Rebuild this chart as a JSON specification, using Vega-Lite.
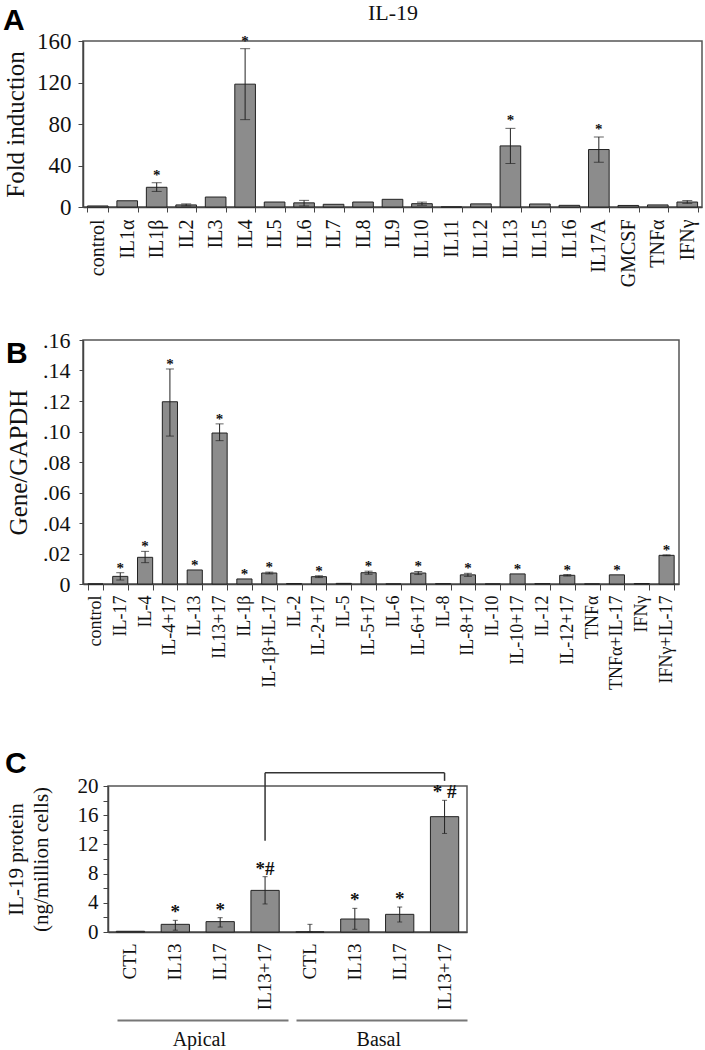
{
  "$schema": "https://vega.github.io/schema/vega-lite/v6.json",
  "background": "white",
  "padding": {"left": 2, "top": 0, "right": 2, "bottom": 0},
  "columns": 1,
  "bounds": "flush",
  "spacing": 133,
  "config": {
    "font": "Liberation Serif",
    "view": {"stroke": "#555", "strokeWidth": 1.5},
    "axis": {"grid": false, "domainColor": "#444", "tickColor": "#444", "labelColor": "#111", "titleColor": "#111", "titleFontWeight": "normal", "domainWidth": 1.5, "labelOverlap": false},
    "title": {"font": "Liberation Sans", "fontWeight": "bold", "fontSize": 30, "anchor": "start", "frame": "bounds", "baseline": "alphabetic", "color": "#000"}
  },
  "concat": [
    {
      "title": {"text": "A", "offset": -35},
      "width": 619,
      "height": 166,
      "data": {"values": [
        {"cyt": "control", "value": 1},
        {"cyt": "IL1α", "value": 6},
        {"cyt": "IL1β", "value": 19, "lo": 15, "hi": 23.4, "sig": "*"},
        {"cyt": "IL2", "value": 2, "lo": 1, "hi": 3},
        {"cyt": "IL3", "value": 9.6},
        {"cyt": "IL4", "value": 118.4, "lo": 84.2, "hi": 152.6, "sig": "*"},
        {"cyt": "IL5", "value": 4.8},
        {"cyt": "IL6", "value": 4, "lo": 1, "hi": 6.4},
        {"cyt": "IL7", "value": 2.6},
        {"cyt": "IL8", "value": 4.8},
        {"cyt": "IL9", "value": 7.4},
        {"cyt": "IL10", "value": 3.2, "lo": 1.7, "hi": 4.7},
        {"cyt": "IL11", "value": 0},
        {"cyt": "IL12", "value": 3},
        {"cyt": "IL13", "value": 58.9, "lo": 41.9, "hi": 75.8, "sig": "*"},
        {"cyt": "IL15", "value": 2.9},
        {"cyt": "IL16", "value": 1.6},
        {"cyt": "IL17A", "value": 55.4, "lo": 43.2, "hi": 67.5, "sig": "*"},
        {"cyt": "GMCSF", "value": 1.5},
        {"cyt": "TNFα", "value": 2},
        {"cyt": "IFNγ", "value": 4.8, "lo": 3.5, "hi": 6.2}
      ]},
      "resolve": {"axis": {"x": "independent"}},
      "layer": [
        {
          "mark": {"type": "bar", "color": "#8c8c8c", "stroke": "#222", "strokeWidth": 1},
          "encoding": {
            "x": {"field": "cyt", "type": "nominal", "sort": null,
              "scale": {"domain": ["control","IL1α","IL1β","IL2","IL3","IL4","IL5","IL6","IL7","IL8","IL9","IL10","IL11","IL12","IL13","IL15","IL16","IL17A","GMCSF","TNFα","IFNγ"], "paddingInner": 0.3, "paddingOuter": 0.15},
              "axis": {"title": null, "labelAngle": 270, "labelAlign": "right", "labelBaseline": "middle", "labelFontSize": 20, "labelPadding": 7, "tickBand": "extent", "tickSize": 5}},
            "y": {"field": "value", "type": "quantitative", "scale": {"domain": [0, 160], "nice": false},
              "axis": {"title": "Fold induction", "values": [0, 40, 80, 120, 160], "tickCount": 12, "labelOverlap": false, "labelFontSize": 23, "titleFontSize": 25, "tickSize": 5, "labelPadding": 7, "titlePadding": 8, "minExtent": 47, "maxExtent": 47}}
          }
        },
        {
          "transform": [{"filter": "isValid(datum.hi)"}],
          "mark": {"type": "rule", "color": "#222", "strokeWidth": 1},
          "encoding": {
            "x": {"field": "cyt", "type": "nominal", "sort": null,
              "axis": {"orient": "top", "title": "IL-19", "titleFontSize": 22, "titlePadding": 17, "labels": false, "ticks": false, "domain": false, "minExtent": 0, "maxExtent": 0}},
            "y": {"field": "lo", "type": "quantitative"},
            "y2": {"field": "hi"}
          }
        },
        {
          "transform": [{"filter": "isValid(datum.hi)"}],
          "mark": {"type": "tick", "color": "#222", "size": 10, "thickness": 1},
          "encoding": {
            "x": {"field": "cyt", "type": "nominal", "sort": null, "axis": null},
            "y": {"field": "lo", "type": "quantitative"}
          }
        },
        {
          "transform": [{"filter": "isValid(datum.hi)"}],
          "mark": {"type": "tick", "color": "#222", "size": 10, "thickness": 1},
          "encoding": {
            "x": {"field": "cyt", "type": "nominal", "sort": null, "axis": null},
            "y": {"field": "hi", "type": "quantitative"}
          }
        },
        {
          "transform": [{"filter": "datum.sig && isValid(datum.hi)"}],
          "mark": {"type": "text", "baseline": "bottom", "dy": 0, "fontSize": 15, "fontWeight": "bold", "color": "#111"},
          "encoding": {
            "x": {"field": "cyt", "type": "nominal", "sort": null, "axis": null},
            "y": {"field": "hi", "type": "quantitative"},
            "text": {"field": "sig"}
          }
        }
      ]
    },
    {
      "columns": 1,
      "bounds": "flush",
      "spacing": 202,
      "concat": [
        {
          "title": {"text": "B", "offset": -40},
          "width": 596,
          "height": 244,
          "data": {"values": [
            {"cyt": "control", "value": 0},
            {"cyt": "IL-17", "value": 0.005, "lo": 0.0026, "hi": 0.0074, "sig": "*"},
            {"cyt": "IL-4", "value": 0.0175, "lo": 0.014, "hi": 0.0214, "sig": "*"},
            {"cyt": "IL-4+17", "value": 0.1195, "lo": 0.097, "hi": 0.141, "sig": "*"},
            {"cyt": "IL-13", "value": 0.0092, "sig": "*"},
            {"cyt": "IL13+17", "value": 0.099, "lo": 0.094, "hi": 0.105, "sig": "*"},
            {"cyt": "IL-1β", "value": 0.0033, "sig": "*"},
            {"cyt": "IL-1β+IL-17", "value": 0.0072, "lo": 0.0066, "hi": 0.0078, "sig": "*"},
            {"cyt": "IL-2", "value": 0.0003},
            {"cyt": "IL-2+17", "value": 0.0048, "lo": 0.0042, "hi": 0.0054, "sig": "*"},
            {"cyt": "IL-5", "value": 0.0004},
            {"cyt": "IL-5+17", "value": 0.0074, "lo": 0.0064, "hi": 0.0084, "sig": "*"},
            {"cyt": "IL-6", "value": 0},
            {"cyt": "IL-6+17", "value": 0.0072, "lo": 0.0062, "hi": 0.0082, "sig": "*"},
            {"cyt": "IL-8", "value": 0.0002},
            {"cyt": "IL-8+17", "value": 0.006, "lo": 0.005, "hi": 0.007, "sig": "*"},
            {"cyt": "IL-10", "value": 0},
            {"cyt": "IL-10+17", "value": 0.0066, "sig": "*"},
            {"cyt": "IL-12", "value": 0.0002},
            {"cyt": "IL-12+17", "value": 0.0057, "lo": 0.0052, "hi": 0.0062, "sig": "*"},
            {"cyt": "TNFα", "value": 0},
            {"cyt": "TNFα+IL-17", "value": 0.006, "sig": "*"},
            {"cyt": "IFNγ", "value": 0.0003},
            {"cyt": "IFNγ+IL-17", "value": 0.0188, "lo": 0.0185, "hi": 0.0191, "sig": "*"}
          ]},
          "layer": [
            {
              "mark": {"type": "bar", "color": "#8c8c8c", "stroke": "#222", "strokeWidth": 1},
              "encoding": {
                "x": {"field": "cyt", "type": "nominal", "sort": null,
                  "scale": {"domain": ["control","IL-17","IL-4","IL-4+17","IL-13","IL13+17","IL-1β","IL-1β+IL-17","IL-2","IL-2+17","IL-5","IL-5+17","IL-6","IL-6+17","IL-8","IL-8+17","IL-10","IL-10+17","IL-12","IL-12+17","TNFα","TNFα+IL-17","IFNγ","IFNγ+IL-17"], "paddingInner": 0.39, "paddingOuter": 0.195},
                  "axis": {"title": null, "labelAngle": 270, "labelAlign": "right", "labelBaseline": "middle", "labelFontSize": 18, "labelPadding": 5, "tickBand": "extent", "tickSize": 6}},
                "y": {"field": "value", "type": "quantitative", "scale": {"domain": [0, 0.16], "nice": false},
                  "axis": {"title": "Gene/GAPDH", "values": [0, 0.02, 0.04, 0.06, 0.08, 0.1, 0.12, 0.14, 0.16], "tickCount": 20, "labelOverlap": false, "labelExpr": "datum.value == 0 ? '0' : replace(format(datum.value, '.2f'), '0.', '.')", "labelFontSize": 22, "titleFontSize": 25, "tickSize": 4, "labelPadding": 9, "titlePadding": 11, "minExtent": 41, "maxExtent": 41}}
              }
            },
            {
              "transform": [{"filter": "isValid(datum.hi)"}],
              "mark": {"type": "rule", "color": "#222", "strokeWidth": 1},
              "encoding": {
                "x": {"field": "cyt", "type": "nominal", "sort": null},
                "y": {"field": "lo", "type": "quantitative"},
                "y2": {"field": "hi"}
              }
            },
            {
              "transform": [{"filter": "isValid(datum.hi)"}],
              "mark": {"type": "tick", "color": "#222", "size": 8, "thickness": 1},
              "encoding": {
                "x": {"field": "cyt", "type": "nominal", "sort": null},
                "y": {"field": "lo", "type": "quantitative"}
              }
            },
            {
              "transform": [{"filter": "isValid(datum.hi)"}],
              "mark": {"type": "tick", "color": "#222", "size": 8, "thickness": 1},
              "encoding": {
                "x": {"field": "cyt", "type": "nominal", "sort": null},
                "y": {"field": "hi", "type": "quantitative"}
              }
            },
            {
              "transform": [{"filter": "datum.sig && isValid(datum.hi)"}],
              "mark": {"type": "text", "baseline": "bottom", "dy": 3, "fontSize": 15, "fontWeight": "bold", "color": "#111"},
              "encoding": {
                "x": {"field": "cyt", "type": "nominal", "sort": null},
                "y": {"field": "hi", "type": "quantitative"},
                "text": {"field": "sig"}
              }
            },
            {
              "transform": [{"filter": "datum.sig && !isValid(datum.hi)"}],
              "mark": {"type": "text", "baseline": "bottom", "dy": 3, "fontSize": 15, "fontWeight": "bold", "color": "#111"},
              "encoding": {
                "x": {"field": "cyt", "type": "nominal", "sort": null},
                "y": {"field": "value", "type": "quantitative"},
                "text": {"field": "sig"}
              }
            }
          ]
        },
        {
          "bounds": "flush",
          "spacing": 0,
          "hconcat": [
            {
              "width": 25,
              "height": 10,
              "view": {"stroke": null},
              "data": {"values": []},
              "mark": {"type": "point", "opacity": 0},
              "encoding": {}
            },
            {
              "title": {"text": "C", "offset": -7},
              "width": 359,
              "height": 146,
              "data": {"values": [
                {"id": "Apical CTL", "value": 0.1},
                {"id": "Apical IL13", "value": 1.05, "lo": 0.25, "hi": 1.6, "sig": "*"},
                {"id": "Apical IL17", "value": 1.42, "lo": 0.68, "hi": 1.96, "sig": "*"},
                {"id": "Apical IL13+17", "value": 5.7, "lo": 3.84, "hi": 7.58, "sig": "*#"},
                {"id": "Basal CTL", "value": 0, "lo": 0, "hi": 1.05},
                {"id": "Basal IL13", "value": 1.78, "lo": 0.37, "hi": 3.24, "sig": "*"},
                {"id": "Basal IL17", "value": 2.42, "lo": 1.37, "hi": 3.42, "sig": "*"},
                {"id": "Basal IL13+17", "value": 15.8, "lo": 13.5, "hi": 18.04, "sig": "* #"}
              ]},
              "resolve": {"axis": {"x": "independent"}},
              "layer": [
                {
                  "mark": {"type": "bar", "color": "#8c8c8c", "stroke": "#222", "strokeWidth": 1},
                  "encoding": {
                    "x": {"field": "id", "type": "nominal", "sort": null,
                      "scale": {"domain": ["Apical CTL","Apical IL13","Apical IL17","Apical IL13+17","Basal CTL","Basal IL13","Basal IL17","Basal IL13+17"], "paddingInner": 0.37, "paddingOuter": 0.185},
                      "axis": {"title": null, "labelExpr": "split(datum.value, ' ')[1]", "labelAngle": 270, "labelAlign": "right", "labelBaseline": "middle", "labelFontSize": 19, "labelPadding": 11, "ticks": false}},
                    "y": {"field": "value", "type": "quantitative", "scale": {"domain": [0, 20], "nice": false},
                      "axis": {"title": ["IL-19 protein", "(ng/million cells)"], "titleLineHeight": 25, "values": [0, 2, 4, 6, 8, 10, 12, 14, 16, 18, 20], "tickCount": 20, "labelOverlap": false, "labelExpr": "datum.value % 4 === 0 ? datum.label : ''", "labelFontSize": 21, "titleFontSize": 21, "tickSize": 5, "labelPadding": 5, "titlePadding": 21, "minExtent": 36, "maxExtent": 36}}
                  }
                },
                {
                  "transform": [{"filter": "isValid(datum.hi)"}],
                  "mark": {"type": "rule", "color": "#222", "strokeWidth": 1},
                  "encoding": {
                    "x": {"field": "id", "type": "nominal", "sort": null,
                      "axis": {"orient": "bottom", "offset": 88, "title": null, "values": ["Apical IL13", "Basal IL13"], "labelOffset": 24, "labelExpr": "split(datum.value, ' ')[0]", "labelAngle": 0, "labelAlign": "center", "labelBaseline": "top", "labelFontSize": 20, "labelPadding": 9, "ticks": false, "domainColor": "#777", "domainWidth": 2, "domainDash": [171, 8, 180, 9], "domainDashOffset": 359}},
                    "y": {"field": "lo", "type": "quantitative"},
                    "y2": {"field": "hi"}
                  }
                },
                {
                  "transform": [{"filter": "isValid(datum.hi)"}],
                  "mark": {"type": "tick", "color": "#222", "size": 5, "thickness": 1},
                  "encoding": {
                    "x": {"field": "id", "type": "nominal", "sort": null, "axis": null},
                    "y": {"field": "lo", "type": "quantitative"}
                  }
                },
                {
                  "transform": [{"filter": "isValid(datum.hi)"}],
                  "mark": {"type": "tick", "color": "#222", "size": 5, "thickness": 1},
                  "encoding": {
                    "x": {"field": "id", "type": "nominal", "sort": null, "axis": null},
                    "y": {"field": "hi", "type": "quantitative"}
                  }
                },
                {
                  "transform": [{"filter": "datum.sig && isValid(datum.hi)"}],
                  "mark": {"type": "text", "baseline": "bottom", "dy": 2, "fontSize": 19, "fontWeight": "bold", "color": "#111"},
                  "encoding": {
                    "x": {"field": "id", "type": "nominal", "sort": null, "axis": null},
                    "y": {"field": "hi", "type": "quantitative"},
                    "text": {"field": "sig"}
                  }
                },
                {
                  "data": {"values": [{"from": "Apical IL13+17", "to": "Basal IL13+17", "level": 21.8}]},
                  "mark": {"type": "rule", "color": "#333", "strokeWidth": 1.5},
                  "encoding": {
                    "x": {"field": "from", "type": "nominal", "sort": null, "axis": null},
                    "x2": {"field": "to"},
                    "y": {"field": "level", "type": "quantitative"}
                  }
                },
                {
                  "data": {"values": [{"at": "Apical IL13+17", "bottom": 12.5, "top": 21.8}, {"at": "Basal IL13+17", "bottom": 20.7, "top": 21.8}]},
                  "mark": {"type": "rule", "color": "#333", "strokeWidth": 1.5},
                  "encoding": {
                    "x": {"field": "at", "type": "nominal", "sort": null, "axis": null},
                    "y": {"field": "bottom", "type": "quantitative"},
                    "y2": {"field": "top"}
                  }
                }
              ]
            }
          ]
        }
      ]
    }
  ]
}
